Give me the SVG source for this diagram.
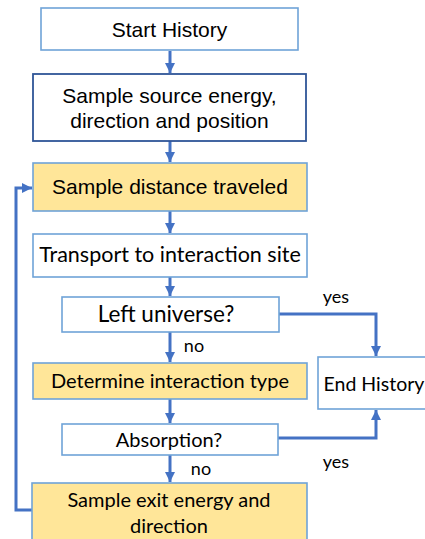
<svg xmlns="http://www.w3.org/2000/svg" width="425" height="539" viewBox="0 0 425 539">
<defs>
<marker id="ah" viewBox="0 0 10 10" refX="10" refY="5" markerWidth="3.4" markerHeight="3.4" orient="auto" markerUnits="strokeWidth">
<path d="M0,0 L10,5 L0,10 Z" fill="#4472c4"/>
</marker>
<style>
.box{fill:#ffffff;stroke:#6fa3d8;stroke-width:1.6}
.dark{fill:#ffffff;stroke:#2f5597;stroke-width:1.8}
.yel{fill:#ffe699;stroke:#6fa3d8;stroke-width:1.6}
.h{font-family:"Liberation Sans",Arial,sans-serif;font-size:21px;fill:#000;text-anchor:middle}
.c{font-family:Lato,"Open Sans",sans-serif;fill:#000;text-anchor:middle}
.conn{fill:none;stroke:#4472c4;stroke-width:3;marker-end:url(#ah)}
</style>
</defs>
<rect width="425" height="539" fill="#ffffff"/>
<g id="connectors">
<line class="conn" x1="170" y1="51" x2="170" y2="73"/>
<line class="conn" x1="170" y1="141" x2="170" y2="162"/>
<line class="conn" x1="170" y1="211" x2="170" y2="233"/>
<line class="conn" x1="170" y1="277" x2="170" y2="296"/>
<line class="conn" x1="170" y1="332" x2="170" y2="362"/>
<line class="conn" x1="170" y1="399" x2="170" y2="423"/>
<line class="conn" x1="170" y1="455" x2="170" y2="482"/>
<polyline class="conn" points="279,314 376,314 376,356"/>
<polyline class="conn" points="278,438 376,438 376,410"/>
<polyline class="conn" points="33,510 16,510 16,188 32,188"/>
<text class="c" x="336" y="303" font-size="18">yes</text>
<text class="c" x="336" y="468" font-size="18">yes</text>
<text class="c" x="194" y="352" font-size="18">no</text>
<text class="c" x="201" y="475" font-size="18">no</text>
</g>
<g id="start">
<rect class="box" x="41" y="8" width="257" height="42"/>
<text class="h" x="169.5" y="37">Start History</text>
</g>
<g id="source">
<rect class="dark" x="33" y="74" width="273" height="67"/>
<text class="h" x="169.5" y="103">Sample source energy,</text>
<text class="h" x="169.5" y="128">direction and position</text>
</g>
<g id="distance">
<rect class="yel" x="33" y="163" width="274" height="48"/>
<text class="h" x="170" y="194" font-size="21.5px">Sample distance traveled</text>
</g>
<g id="transport">
<rect class="box" x="33" y="234" width="274" height="43"/>
<text class="c" x="170" y="262" font-size="21.5">Transport to interaction site</text>
</g>
<g id="left">
<rect class="box" x="62" y="297" width="217" height="35"/>
<text class="c" x="166" y="322" font-size="22.5">Left universe?</text>
</g>
<g id="determine">
<rect class="yel" x="33" y="363" width="274" height="36"/>
<text class="c" x="170" y="388" font-size="20">Determine interaction type</text>
</g>
<g id="end">
<rect class="box" x="318" y="357" width="110" height="52"/>
<text class="c" x="374" y="391" font-size="19.5">End History</text>
</g>
<g id="absorption">
<rect class="box" x="62" y="424" width="216" height="31"/>
<text class="c" x="169" y="447" font-size="20">Absorption?</text>
</g>
<g id="exit">
<rect class="yel" x="32" y="483" width="275" height="60"/>
<text class="c" x="169" y="507" font-size="20">Sample exit energy and</text>
<text class="c" x="169" y="533" font-size="20">direction</text>
</g>
</svg>
